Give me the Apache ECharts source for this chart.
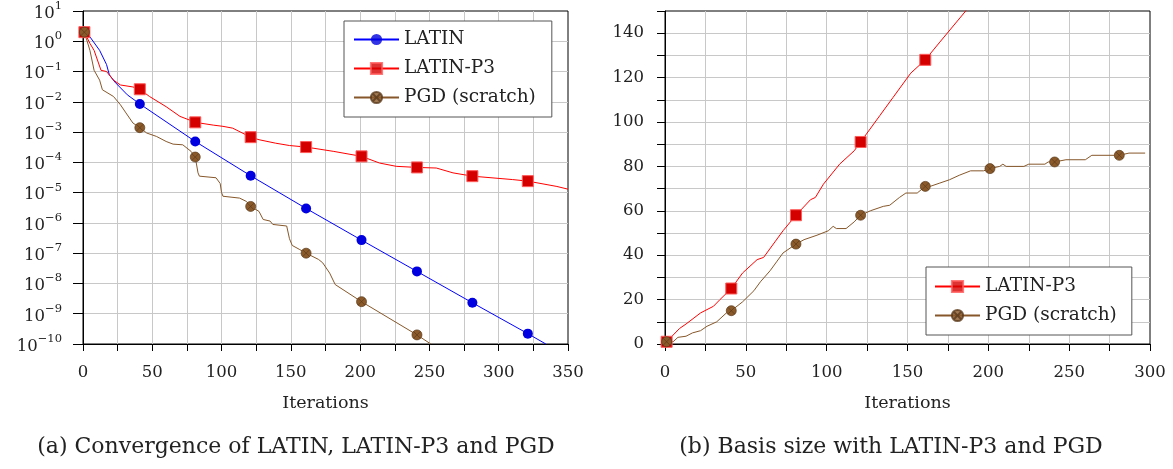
<!DOCTYPE html>
<html><head><meta charset="utf-8">
<script src="https://cdn.jsdelivr.net/npm/echarts@6/dist/echarts.min.js"></script>
<style>html,body{margin:0;padding:0;background:#fff}#c{width:1173px;height:469px}</style>
</head><body><div id="c"></div>
<script>
// ---------- data (a) : residual vs iterations ----------
const latinX = [1, 5, 12, 17, 19, 23, 32, 41, 81, 121, 161, 201, 241, 281, 321, 334];
const latinY = [2, 1.4, 0.5, 0.17, 0.078, 0.045, 0.017, 0.0085, 4.9e-4, 3.6e-5, 3.0e-6, 2.7e-7, 2.5e-8, 2.3e-9, 2.2e-10, 1e-10];

const p3X = [1, 5, 8, 13, 17, 22, 27, 36, 41, 48, 60, 70, 75, 81, 94, 101, 108, 121, 127, 139, 149, 161, 181, 201, 214, 226, 241, 255, 267, 281, 310, 321, 342, 350];
const p3Y = [2, 0.85, 0.5, 0.11, 0.1, 0.052, 0.036, 0.031, 0.026, 0.015, 0.0069, 0.0033, 0.0027, 0.0021, 0.0017, 0.00155, 0.00135, 6.8e-4, 5.6e-4, 4.3e-4, 3.6e-4, 3.2e-4, 2.3e-4, 1.58e-4, 9.5e-5, 7.4e-5, 6.8e-5, 6.5e-5, 4.5e-5, 3.5e-5, 2.7e-5, 2.4e-5, 1.6e-5, 1.3e-5];

const pgdX = [1, 5, 8, 12, 14, 22, 27, 31, 36, 41, 46, 53, 60, 65, 72, 78, 81, 83, 84, 96, 99, 100, 101, 113, 118, 121, 127, 130, 135, 137, 147, 149, 151, 156, 161, 170, 173, 178, 182, 201, 241, 251];
const pgdY = [2, 0.5, 0.11, 0.052, 0.025, 0.015, 0.008, 0.0043, 0.002, 1.4e-3, 9.3e-4, 7.2e-4, 4.9e-4, 4.0e-4, 3.8e-4, 2.3e-4, 1.5e-4, 4.5e-5, 3.5e-5, 3.1e-5, 2e-5, 1e-5, 7.6e-6, 6.6e-6, 5.1e-6, 3.5e-6, 2.4e-6, 1.3e-6, 1.15e-6, 8.9e-7, 7.9e-7, 3e-7, 1.8e-7, 1.35e-7, 1.0e-7, 6.2e-8, 4.8e-8, 2.2e-8, 9.2e-9, 2.5e-9, 2.0e-10, 1e-10];

// ---------- data (b) : basis size vs iterations ----------
const p3rX = [1, 5, 9, 13, 22, 30, 34, 41, 48, 57, 61, 68, 73, 81, 90, 93, 98, 108, 117, 121, 133, 141, 152, 161, 170, 186, 190];
const p3rY = [1, 4, 7, 9, 14, 17, 20, 25, 32, 38, 39, 46, 51, 58, 65, 66, 72, 81, 87, 91, 103, 111, 122, 128, 136, 150, 155];

const pgdrX = [1, 5, 8, 13, 17, 22, 26, 32, 38, 41, 48, 55, 59, 65, 69, 73, 81, 86, 94, 101, 104, 106, 112, 117, 121, 127, 135, 139, 145, 149, 156, 161, 164, 170, 176, 182, 189, 197, 201, 207, 209, 211, 222, 225, 235, 237, 241, 248, 260, 264, 278, 281, 287, 297];
const pgdrY = [1, 1, 3, 3.5, 5, 6, 8, 10, 14, 15, 19, 24, 28, 33, 37, 41, 45, 47, 49, 51, 53, 52, 52, 55, 58, 60, 62, 62.5, 66, 68, 68, 71, 71, 72.5, 74, 76, 78, 78, 79, 80, 81, 80, 80, 81, 81, 82, 82, 83, 83, 85, 85, 85, 86, 86];

const markerIters = [1, 41, 81, 121, 161, 201, 241, 281, 321];
const legendA = ['LATIN', 'LATIN-P3', 'PGD (scratch)'];
const legendB = ['LATIN-P3', 'PGD (scratch)'];
const captionA = '(a) Convergence of LATIN, LATIN-P3 and PGD';
const captionB = '(b) Basis size with LATIN-P3 and PGD';
const axisTitle = 'Iterations';

// ---------- styling ----------
const FONT = 'DejaVu Serif';
const TXT = '#222';
const GRIDC = '#c8c8c8';
const BLUE = '#0000ff', RED = '#ff0000', BROWN = '#86572a';
const otimes = 'path://M20,10 A10,10 0 1 1 0,10 A10,10 0 1 1 20,10 Z M3,3 L17,17 M17,3 L3,17';

function build(xs, ys) {
  return xs.map((x, i) => markerIters.includes(x) ? [x, ys[i]] : { value: [x, ys[i]], symbol: 'none' });
}
const sLatin = { type: 'line', symbol: 'circle', symbolSize: 10, lineStyle: { color: BLUE, width: 1 }, itemStyle: { color: '#0000e0' } };
const sP3 = { type: 'line', symbol: 'rect', symbolSize: 11, lineStyle: { color: RED, width: 1 }, itemStyle: { color: '#d40000', borderColor: '#ff5a5a', borderWidth: 1 } };
const sPgd = { type: 'line', symbol: otimes, symbolSize: 10, lineStyle: { color: BROWN, width: 1 }, itemStyle: { color: '#8b5a2b', borderColor: '#5a3a1a', borderWidth: 0.7 } };

function xAxis(idx, max) {
  return {
    type: 'value', gridIndex: idx, min: 0, max: max, interval: 25,
    name: axisTitle, nameLocation: 'middle', nameGap: 50,
    nameTextStyle: { fontFamily: FONT, fontSize: 17.5, color: TXT },
    axisLine: { lineStyle: { color: '#000', width: 1 } },
    axisTick: { length: 7, lineStyle: { color: '#000' } },
    axisLabel: { margin: 20, fontFamily: FONT, fontSize: 16.5, color: TXT, formatter: v => (v % 50 === 0 ? String(v) : '') },
    splitLine: { show: true, showMaxLine: false, lineStyle: { color: GRIDC, width: 1 } }
  };
}
const legendCommon = {
  orient: 'vertical', itemWidth: 45, itemHeight: 14, itemGap: 10,
  borderColor: '#555', borderWidth: 1, backgroundColor: '#fff', borderRadius: 0,
  itemStyle: { opacity: 0.8 },
  textStyle: { fontFamily: FONT, fontSize: 18.5, color: TXT }
};

const chart = echarts.init(document.getElementById('c'), null, { renderer: 'canvas' });
chart.setOption({
  animation: false,
  backgroundColor: '#fff',
  grid: [
    { left: 83, top: 11, width: 485, height: 333, show: true, borderColor: '#000', borderWidth: 1, backgroundColor: 'transparent' },
    { left: 665, top: 11, width: 485, height: 333, show: true, borderColor: '#000', borderWidth: 1, backgroundColor: 'transparent' }
  ],
  xAxis: [xAxis(0, 350), xAxis(1, 300)],
  yAxis: [
    {
      type: 'log', gridIndex: 0, logBase: 10, min: 1e-10, max: 10, interval: 1,
      axisLine: { show: true, lineStyle: { color: '#000', width: 1 } },
      axisTick: { show: true, length: 10, lineStyle: { color: '#000' } },
      axisLabel: {
        margin: 21, fontFamily: FONT, color: TXT,
        formatter: v => { const e = Math.round(Math.log10(v)); return '{b|10}{s|' + (e < 0 ? '\u2212' + (-e) : e) + '}'; },
        rich: {
          b: { fontFamily: FONT, fontSize: 16.5, color: TXT, lineHeight: 22, verticalAlign: 'bottom' },
          s: { fontFamily: FONT, fontSize: 11.5, color: TXT, lineHeight: 12, verticalAlign: 'top' }
        }
      },
      splitLine: { show: true, showMaxLine: false, showMinLine: false, lineStyle: { color: GRIDC, width: 1 } }
    },
    {
      type: 'value', gridIndex: 1, min: 0, max: 150, interval: 10,
      axisLine: { show: true, lineStyle: { color: '#000', width: 1 } },
      axisTick: { show: true, length: 8, lineStyle: { color: '#000' } },
      axisLabel: { margin: 21, fontFamily: FONT, fontSize: 16.5, color: TXT, formatter: v => (v % 20 === 0 ? String(v) : '') },
      splitLine: { show: true, showMaxLine: false, showMinLine: false, lineStyle: { color: GRIDC, width: 1 } }
    }
  ],
  legend: [
    Object.assign({ data: legendA, left: 344, top: 21, padding: [9, 16, 10, 9] }, legendCommon),
    Object.assign({ data: legendB, left: 926, top: 267, padding: [10, 15, 10, 8] }, legendCommon)
  ],
  graphic: [
    { type: 'text', x: 296, y: 447, style: { text: captionA, fill: TXT, font: '22px "DejaVu Serif"', textAlign: 'center', textVerticalAlign: 'middle' } },
    { type: 'text', x: 891, y: 447, style: { text: captionB, fill: TXT, font: '22px "DejaVu Serif"', textAlign: 'center', textVerticalAlign: 'middle' } }
  ],
  series: [
    Object.assign({ name: 'LATIN', xAxisIndex: 0, yAxisIndex: 0, data: build(latinX, latinY) }, sLatin),
    Object.assign({ name: 'LATIN-P3', xAxisIndex: 0, yAxisIndex: 0, data: build(p3X, p3Y) }, sP3),
    Object.assign({ name: 'PGD (scratch)', xAxisIndex: 0, yAxisIndex: 0, data: build(pgdX, pgdY) }, sPgd),
    Object.assign({ name: 'LATIN-P3', xAxisIndex: 1, yAxisIndex: 1, data: build(p3rX, p3rY) }, sP3),
    Object.assign({ name: 'PGD (scratch)', xAxisIndex: 1, yAxisIndex: 1, data: build(pgdrX, pgdrY) }, sPgd)
  ]
});
</script></body></html>
